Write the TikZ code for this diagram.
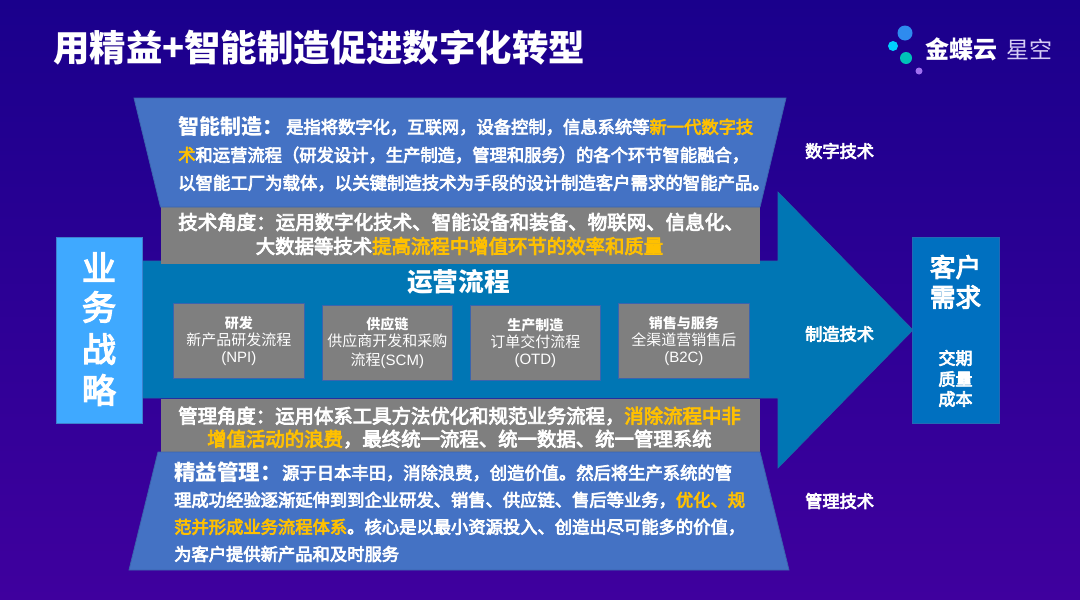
\documentclass[tikz,border=0pt]{standalone}
\usepackage{fontspec}
\setmainfont{Noto Sans CJK SC}
\newfontfamily\latf{Liberation Sans}
\newfontfamily\medf[FakeBold=4]{Noto Sans CJK SC}
\usetikzlibrary{calc}
\definecolor{bgtop}{HTML}{1A008C}
\definecolor{bgbot}{HTML}{3F009E}
\definecolor{trapblue}{HTML}{4472C4}
\definecolor{trapline}{HTML}{3B64AE}
\definecolor{greyband}{HTML}{7F7F7F}
\definecolor{arrowblue}{HTML}{0076B4}
\definecolor{arrowline}{HTML}{1A6CA8}
\definecolor{leftblue}{HTML}{3FA9FF}
\definecolor{rightblue}{HTML}{0070C0}
\definecolor{hlyellow}{HTML}{FFC000}
\definecolor{dotone}{RGB}{46,139,239}
\definecolor{dottwo}{RGB}{0,208,255}
\definecolor{dotthree}{RGB}{0,194,184}
\definecolor{dotfour}{RGB}{160,112,240}
\definecolor{logolight}{RGB}{214,205,245}
\newcommand\fsz[1]{\fontsize{#1}{#1}\selectfont}
\newcommand\hl[1]{\textcolor{hlyellow}{#1}}
\tikzset{
  trap/.style={fill=trapblue,draw=trapline,line width=0.8pt},
  band/.style={fill=greyband,draw=none},
  linetext/.style={anchor=west,inner sep=0pt,text=white,font=\medf},
  headtext/.style={anchor=west,inner sep=0pt,text=white,font=\bfseries},
  midtext/.style={anchor=center,inner sep=0pt,text=white,font=\medf},
  procbox/.style={anchor=north west,fill=greyband,draw=trapline,line width=0.8pt,inner sep=0pt,
     minimum width=131pt,minimum height=75pt,text=white,align=center},
  dot/.style={circle,inner sep=0pt,draw=none}
}
\begin{document}
\begin{tikzpicture}[x=1pt,y=-1pt]
\useasboundingbox (0,0) rectangle (1080,600);
\shade[top color=bgtop,bottom color=bgbot] (0,0) rectangle (1080,600);
% title
\node[headtext] (title) at (53,48) {\fsz{36.4}用精益+智能制造促进数字化转型};
% logo
\node[dot,minimum size=15pt,fill=dotone] (d1) at (905,33) {};
\node[dot,minimum size=10pt,fill=dottwo] (d2) at (893,46) {};
\node[dot,minimum size=12pt,fill=dotthree] (d3) at (906,58) {};
\node[dot,minimum size=7pt,fill=dotfour] (d4) at (919,71) {};
\node[headtext] (logoa) at (925,49) {\fsz{24}金蝶云};
\node[anchor=west,inner sep=0pt,text=logolight] (logob) at (1006,49) {\fsz{23}星空};
% arrow
\fill[arrowblue,draw=arrowline,line width=0.6pt] (142,261) -- (778,261) -- (778,192) -- (913,330) -- (778,468) -- (778,398) -- (142,398) -- cycle;
% grey bands
\fill[band] (160.5,207) rectangle (760,264);
\fill[band] (160.5,398.5) rectangle (760,452);
% trapezoids
\draw[trap] (134,98) -- (786,98) -- (760,207) -- (160.5,207) -- cycle;
\draw[trap] (158,452) -- (760,452) -- (789,570) -- (129,570) -- cycle;
% side boxes
\node[anchor=north west,fill=leftblue,draw=trapline!60!leftblue,line width=0.8pt,minimum width=86pt,minimum height=186pt,inner sep=0pt] (left) at (56,237) {};
\node[anchor=north west,fill=rightblue,draw=trapline!60!rightblue,line width=0.8pt,minimum width=87pt,minimum height=186pt,inner sep=0pt] (right) at (912,237) {};
\node[midtext] (l1) at (99,267) {\fsz{34}业};
\node[midtext] (l2) at (99,307) {\fsz{34}务};
\node[midtext] (l3) at (99,349) {\fsz{34}战};
\node[midtext] (l4) at (99,390) {\fsz{34}略};
\node[midtext] (r1) at (955.5,267) {\fsz{25.5}客户};
\node[midtext] (r2) at (955.5,297) {\fsz{25.5}需求};
\node[midtext] (r3) at (955.5,358) {\fsz{17}交期};
\node[midtext] (r4) at (955.5,379) {\fsz{17}质量};
\node[midtext] (r5) at (955.5,399) {\fsz{17}成本};
% top trapezoid text
\node[headtext] (a1) at (178,126) {\fsz{21}智能制造：};
\node[linetext] (a1b) at (286,127) {\fsz{17.3}是指将数字化，互联网，设备控制，信息系统等\hl{新一代数字技}};
\node[linetext] (a2) at (178,155) {\fsz{17.3}\hl{术}和运营流程（研发设计，生产制造，管理和服务）的各个环节智能融合，};
\node[linetext] (a3) at (178,183) {\fsz{17.4}以智能工厂为载体，以关键制造技术为手段的设计制造客户需求的智能产品。};
% upper band
\node[linetext] (b1) at (178,222) {\fsz{19.5}技术角度：运用数字化技术、智能设备和装备、物联网、信息化、};
\node[midtext] (b2) at (459.5,246) {\fsz{19.4}大数据等技术\hl{提高流程中增值环节的效率和质量}};
% middle
\node[midtext,font=\bfseries] (mid) at (458.5,282) {\fsz{25.7}运营流程};
\node[procbox] (p1) at (173,303) {\fsz{14}\textbf{研发}\\[2pt]\fsz{15}新产品研发流程\\[3.5pt]\fsz{15}\latf (NPI)};
\node[procbox,minimum width=130pt] (p2) at (322,305) {\fsz{14}\textbf{供应链}\\[2pt]\fsz{15}供应商开发和采购\\[3.5pt]\fsz{15}流程{\latf(SCM)}};
\node[procbox,minimum width=130pt] (p3) at (470,305) {\fsz{14}\textbf{生产制造}\\[2pt]\fsz{15}订单交付流程\\[3.5pt]\fsz{15}\latf (OTD)};
\node[procbox] (p4) at (618,303) {\fsz{14}\textbf{销售与服务}\\[2pt]\fsz{15}全渠道营销售后\\[3.5pt]\fsz{15}\latf (B2C)};
% lower band
\node[linetext] (c1) at (178,416) {\fsz{19.4}管理角度：运用体系工具方法优化和规范业务流程，\hl{消除流程中非}};
\node[linetext] (c2) at (207,439) {\fsz{19.4}\hl{增值活动的浪费}，最终统一流程、统一数据、统一管理系统};
% bottom trapezoid text
\node[headtext] (e1) at (174,472) {\fsz{21.5}精益管理：};
\node[linetext] (e1b) at (282,473) {\fsz{17.3}源于日本丰田，消除浪费，创造价值。然后将生产系统的管};
\node[linetext] (e2) at (174,500) {\fsz{17.3}理成功经验逐渐延伸到到企业研发、销售、供应链、售后等业务，\hl{优化、规}};
\node[linetext] (e3) at (174,527) {\fsz{17.3}\hl{范并形成业务流程体系}。核心是以最小资源投入、创造出尽可能多的价值，};
\node[linetext] (e4) at (174,554) {\fsz{17.3}为客户提供新产品和及时服务};
% right labels
\node[linetext] (s1) at (805,151) {\fsz{17.2}数字技术};
\node[linetext] (s2) at (805,334) {\fsz{17.2}制造技术};
\node[linetext] (s3) at (805,501) {\fsz{17.2}管理技术};
\end{tikzpicture}
\end{document}
